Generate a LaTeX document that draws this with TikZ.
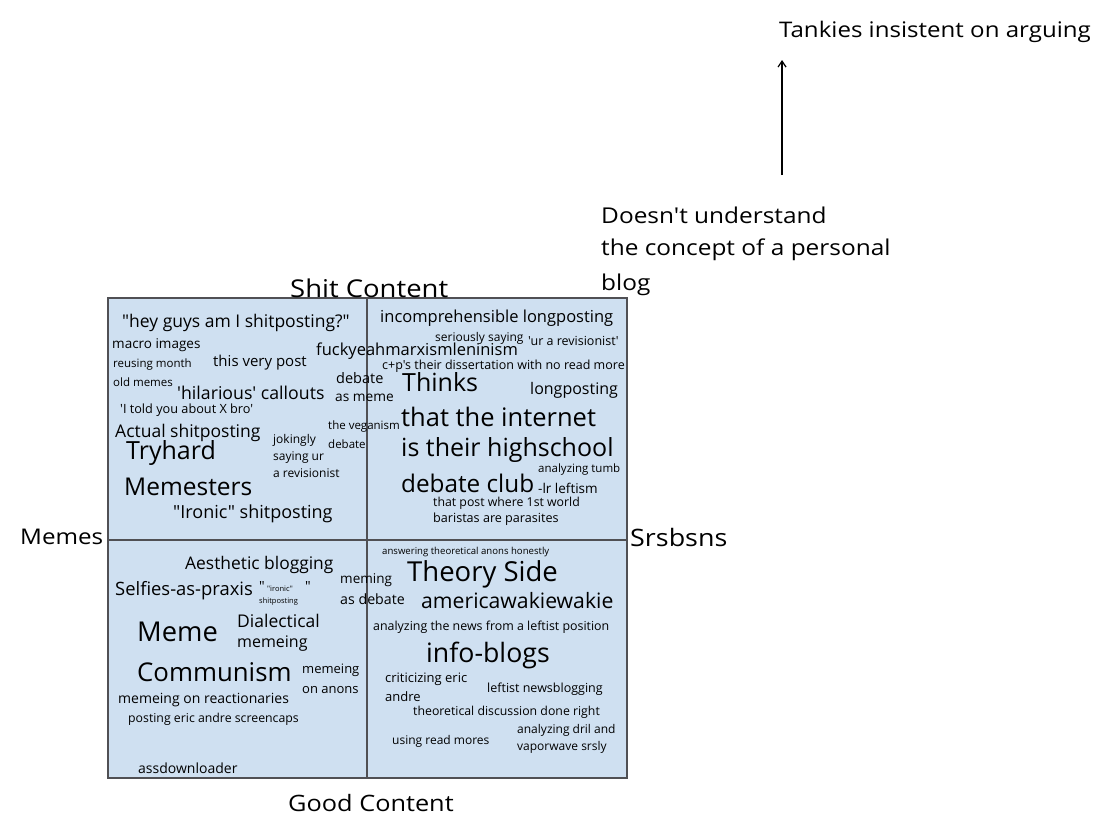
\documentclass[tikz,border=0pt]{standalone}
\usepackage{fontspec}
\newfontfamily\csfont{Open Sans}
\newfontfamily\wideFont[FakeStretch=1.12]{Open Sans}
\usetikzlibrary{arrows.meta}
\definecolor{boxfill}{RGB}{207,224,241}
\definecolor{boxline}{RGB}{80,80,84}
\tikzset{
  txt/.style={anchor=west,inner sep=0pt,text=black},
  fs/.style={font=\csfont\fontsize{#1}{#1}\selectfont},
  wfs/.style={font=\wideFont\fontsize{#1}{#1}\selectfont},
}
\begin{document}
\begin{tikzpicture}[x=1pt,y=-1pt]
\useasboundingbox (0,0) rectangle (1100,825);
% box
\fill[boxfill] (108,298) rectangle (627,778);
\draw[boxline,line width=2.5pt] (108,298) rectangle (627,778);
\draw[boxline,line width=2.5pt] (367,298) -- (367,778);
\draw[boxline,line width=2.5pt] (108,540) -- (627,540);
% axis labels
\node[txt,wfs=24.5] (shit) at (290,288) {Shit Content};
\node[txt,wfs=22.6] (good) at (288,803) {Good Content};
\node[txt,wfs=21.6] (memes) at (20,537) {Memes};
\node[txt,wfs=24] (srs) at (630,537) {Srsbsns};
\node[txt,wfs=21.5] (tank) at (779,32) {Tankies insistent on arguing};
\node[txt,wfs=21.8] (d1) at (601,215) {Doesn't understand};
\node[txt,wfs=21.8] (d2) at (601,250) {the concept of a personal};
\node[txt,wfs=21.8] (d3) at (601,285) {blog};
\coordinate (a0) at (782,175);
\coordinate (a1) at (782,60);
\draw[line width=1.2pt,-{Straight Barb[length=6pt,width=8pt]}] (a0) -- (a1);
% top-left
\node[txt,fs=17.5] (q1) at (122,323) {"hey guys am I shitposting?"};
\node[txt,fs=13.5] (q2) at (112,345) {macro images};
\node[txt,fs=16.5] (q3) at (316,351) {fuckyeahmarxismleninism};
\node[txt,fs=11.5] (q4) at (113,365) {reusing month};
\node[txt,fs=15] (q5) at (213,363) {this very post};
\node[txt,fs=11.5] (q6) at (113,382) {old memes};
\node[txt,fs=14.5] (q7) at (336,378) {debate};
\node[txt,fs=13.7] (q8) at (335,398) {as meme};
\node[txt,fs=17.7] (q9) at (177,393) {'hilarious' callouts};
\node[txt,fs=12.7] (q10) at (120,410) {'I told you about X bro'};
\node[txt,fs=11.5] (q11) at (328,427) {the veganism};
\node[txt,fs=11.5] (q12) at (328,444) {debate};
\node[txt,fs=17.5] (q13) at (115,433) {Actual shitposting};
\node[txt,fs=12] (q14) at (273,440) {jokingly};
\node[txt,fs=12] (q15) at (273,458) {saying ur};
\node[txt,fs=12] (q16) at (273,473) {a revisionist};
\node[txt,fs=25] (q17) at (126,453) {Tryhard};
\node[txt,fs=24.5] (q18) at (124,487) {Memesters};
\node[txt,fs=18] (q19) at (173,514) {"Ironic" shitposting};
% top-right
\node[txt,fs=16.5] (r1) at (380,318) {incomprehensible longposting};
\node[txt,fs=12] (r2) at (435,338) {seriously saying};
\node[txt,fs=12.5] (r3) at (528,341) {'ur a revisionist'};
\node[txt,fs=12.5] (r4) at (382,366) {c+p's their dissertation with no read more};
\node[txt,fs=25] (r5) at (402,382) {Thinks};
\node[txt,fs=16] (r6) at (530,390) {longposting};
\node[txt,fs=25.5] (r7) at (401,417) {that the internet};
\node[txt,fs=25] (r8) at (401,450) {is their highschool};
\node[txt,fs=11.5] (r9) at (538,470) {analyzing tumb};
\node[txt,fs=24.3] (r10) at (401,483) {debate club};
\node[txt,fs=13.5] (r11) at (538,488) {-lr leftism};
\node[txt,fs=12.3] (r12) at (433,503) {that post where 1st world};
\node[txt,fs=12.6] (r13) at (433,519) {baristas are parasites};
% bottom-left
\node[txt,fs=17.4] (s1) at (185,565) {Aesthetic blogging};
\node[txt,fs=18.4] (s2) at (115,591) {Selfies-as-praxis};
\node[txt,fs=14] (s3) at (259,586) {"};
\node[txt,fs=14] (s4) at (305,586) {"};
\node[txt,fs=7.5] (s5) at (267,589) {"ironic"};
\node[txt,fs=7.5] (s6) at (259,602) {shitposting};
\node[txt,fs=13.5] (s7) at (340,580) {meming};
\node[txt,fs=14.2] (s8) at (340,599) {as debate};
\node[txt,fs=27.3] (s9) at (137,632) {Meme};
\node[txt,fs=17.5] (s10) at (237,621) {Dialectical};
\node[txt,fs=16] (s11) at (237,644) {memeing};
\node[txt,fs=25.8] (s12) at (137,672) {Communism};
\node[txt,fs=13] (s13) at (302,670) {memeing};
\node[txt,fs=13] (s14) at (302,690) {on anons};
\node[txt,fs=14] (s15) at (118,700) {memeing on reactionaries};
\node[txt,fs=12.3] (s16) at (128,719) {posting eric andre screencaps};
\node[txt,fs=14] (s17) at (138,768) {assdownloader};
% bottom-right
\node[txt,fs=9.6] (t1) at (382,552) {answering theoretical anons honestly};
\node[txt,fs=27.5] (t2) at (407,574) {Theory Side};
\node[txt,fs=21.2] (t3) at (421,601) {americawakiewakie};
\node[txt,fs=12.4] (t4) at (373,627) {analyzing the news from a leftist position};
\node[txt,fs=26.7] (t5) at (426,655) {info-blogs};
\node[txt,fs=13] (t6) at (385,679) {criticizing eric};
\node[txt,fs=13] (t7) at (385,697) {andre};
\node[txt,fs=12.5] (t8) at (487,689) {leftist newsblogging};
\node[txt,fs=12.3] (t9) at (413,712) {theoretical discussion done right};
\node[txt,fs=12] (t10) at (517,730) {analyzing dril and};
\node[txt,fs=12] (t11) at (517,747) {vaporwave srsly};
\node[txt,fs=12] (t12) at (392,741) {using read mores};
\end{tikzpicture}
\end{document}
